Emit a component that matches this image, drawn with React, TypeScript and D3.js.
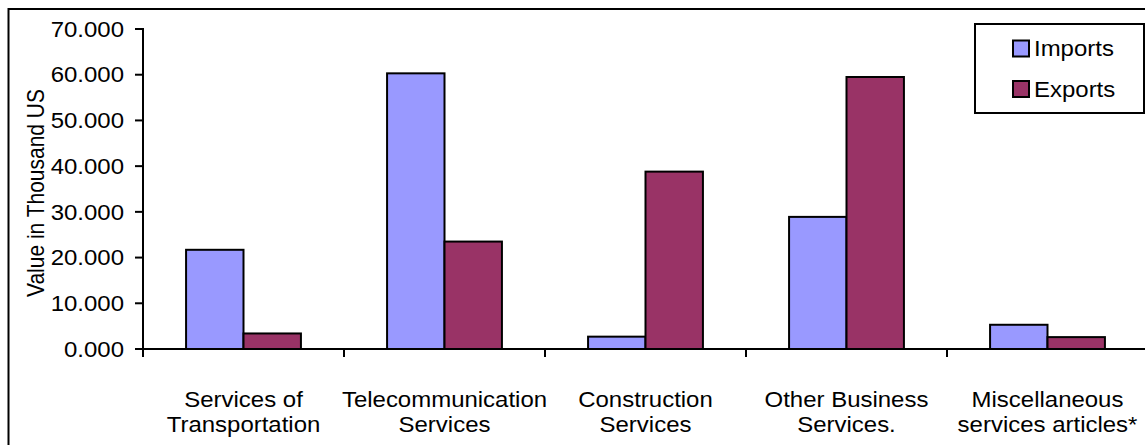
import React from "react";
import * as d3 from "d3";

const categories: string[][] = [
  ["Services of", "Transportation"],
  ["Telecommunication", "Services"],
  ["Construction", "Services"],
  ["Other Business", "Services."],
  ["Miscellaneous", "services articles*"],
];
const imports = [21.7, 60.3, 2.7, 28.9, 5.3];
const exportsVals = [3.4, 23.5, 38.8, 59.5, 2.6];
const yTicks = [0, 10, 20, 30, 40, 50, 60, 70];
const seriesNames = ["Imports", "Exports"];
const colors = ["#9999FF", "#993366"];

const W = 1145;
const H = 445;
const FONT = "'Liberation Sans', Arial, Helvetica, sans-serif";
const SX = 1.09;
const FS = 22;

export default function App() {
  const y = d3.scaleLinear().domain([0, 70]).range([349, 29]);
  const x = d3
    .scaleBand<number>()
    .domain(categories.map((_, i) => i))
    .range([143, 1148])
    .padding(0);
  const xs = d3
    .scaleBand<number>()
    .domain([0, 1])
    .range([0, x.bandwidth()])
    .paddingInner(0)
    .paddingOuter(0.75);
  const series = [imports, exportsVals];
  const fmt = d3.format(".3f");
  const boundaries = categories.map((_, i) => x(i) as number).concat([x.range()[1]]);

  return (
    <svg
      width={W}
      height={H}
      style={{ position: "absolute", left: 0, top: 0, background: "#fff" }}
      fontFamily={FONT}
    >
      <rect x={0} y={0} width={W} height={H} fill="#fff" />
      {/* outer border */}
      <rect x={8.5} y={9} width={W + 20} height={H + 20} fill="none" stroke="#000" strokeWidth={2} />

      {/* bars */}
      {series.map((vals, s) =>
        vals.map((v, i) => (
          <rect
            key={`${s}-${i}`}
            x={(x(i) as number) + (xs(s) as number)}
            y={y(v)}
            width={xs.bandwidth()}
            height={y(0) - y(v)}
            fill={colors[s]}
            stroke="#000"
            strokeWidth={2}
          />
        ))
      )}

      {/* y axis */}
      <line x1={143} x2={143} y1={y(70) - 1} y2={y(0)} stroke="#000" strokeWidth={2} />
      {yTicks.map((t) => (
        <g key={t}>
          <line x1={135} x2={143} y1={y(t)} y2={y(t)} stroke="#000" strokeWidth={2} />
          <text
            transform={`translate(124,${y(t)}) scale(${SX},1)`}
            dy="0.35em"
            textAnchor="end"
            fontSize={FS}
            fill="#000"
          >
            {fmt(t)}
          </text>
        </g>
      ))}

      {/* x axis */}
      <line x1={142} x2={1150} y1={y(0)} y2={y(0)} stroke="#000" strokeWidth={2} />
      {boundaries.map((b, i) => (
        <line key={i} x1={b} x2={b} y1={y(0)} y2={y(0) + 8} stroke="#000" strokeWidth={2} />
      ))}
      {categories.map((lines, i) => (
        <text
          key={i}
          transform={`translate(${(x(i) as number) + x.bandwidth() / 2},407) scale(${SX},1)`}
          textAnchor="middle"
          fontSize={FS}
          fill="#000"
        >
          {lines.map((l, j) => (
            <tspan key={j} x={0} y={j * 25.5}>
              {l}
            </tspan>
          ))}
        </text>
      ))}

      {/* y label */}
      <text
        transform={`translate(43.5,${(y(0) + y(70)) / 2 + 4}) scale(1.18,1) rotate(-90)`}
        textAnchor="middle"
        fontSize={21}
        fill="#000"
      >
        Value in Thousand US
      </text>

      {/* legend */}
      <rect x={975} y={24} width={169} height={89} fill="#fff" stroke="#000" strokeWidth={2} />
      {seriesNames.map((n, i) => (
        <g key={n}>
          <rect x={1013} y={40.5 + i * 40.5} width={16} height={16} fill={colors[i]} stroke="#000" strokeWidth={2} />
          <text
            transform={`translate(1034,${56 + i * 40.5}) scale(${SX},1)`}
            fontSize={FS}
            fill="#000"
          >
            {n}
          </text>
        </g>
      ))}
    </svg>
  );
}
